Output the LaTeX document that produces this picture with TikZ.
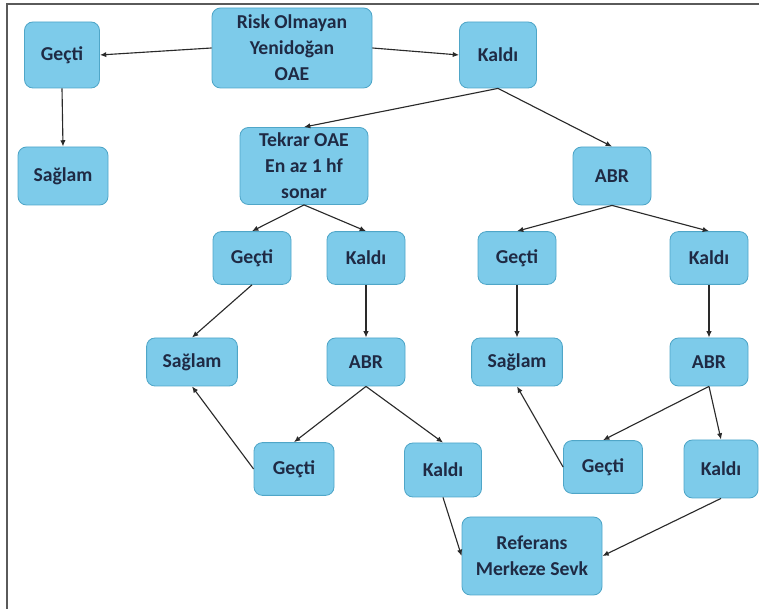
\documentclass[tikz,border=0pt]{standalone}
\usepackage{fontspec}
\setmainfont{Carlito}
\usepackage{xcolor}
\usepackage{tikz}
\usetikzlibrary{arrows.meta}
\definecolor{HSFill}{HTML}{7DCBEA}
\definecolor{HSEdge}{HTML}{4FA6C8}
\definecolor{HSText}{HTML}{1F2A44}
\definecolor{HSFrame}{HTML}{5A5A5A}
\definecolor{HSLine}{HTML}{2A2A2A}
\tikzset{
  box/.style={draw=HSEdge,line width=0.6pt,fill=HSFill,rounded corners=6pt,
    inner sep=0pt,align=center,text=HSText,
    font=\fontsize{14}{18.5}\selectfont\bfseries},
  small/.style={box,minimum width=1.95cm,minimum height=1.32cm},
  wide/.style={box,minimum width=2.27cm,minimum height=1.2cm},
  link/.style={HSLine,line width=0.8pt,-{Latex[length=4.5pt,width=3.8pt]}}
}

\begin{document}
\begin{tikzpicture}[x=1cm,y=1cm]
\path[use as bounding box] (0,0) rectangle (18.975,15.225);
\draw[HSFrame,line width=0.9pt] (0.175,0) -- (0.175,15.125) -- (18.975,15.125);
% top row
\node[box,minimum width=4.00cm,minimum height=2.00cm] (root) at (7.30,14.025) {Risk Olmayan\\Yenidoğan\\OAE};
\node[box,minimum width=1.875cm,minimum height=1.65cm] (g1) at (1.55,13.85) {Geçti};
\node[box,minimum width=1.925cm,minimum height=1.65cm] (k1) at (12.45,13.85) {Kaldı};
\node[box,minimum width=2.25cm,minimum height=1.45cm] (s1) at (1.575,10.825) {Sağlam};
\node[box,minimum width=3.20cm,minimum height=1.925cm] (tekrar) at (7.60,11.075) {Tekrar OAE\\En az 1 hf\\sonar};
\node[box,minimum width=1.95cm,minimum height=1.45cm] (abr1) at (15.30,10.825) {ABR};
% left branch
\node[small] (g2) at (6.30,8.775) {Geçti};
\node[small] (k2) at (9.15,8.775) {Kaldı};
\node[wide] (s2) at (4.80,6.175) {Sağlam};
\node[small,minimum height=1.2cm] (abr2) at (9.15,6.175) {ABR};
\node[small,minimum width=2.0cm] (g3) at (7.35,3.50) {Geçti};
\node[small,minimum width=1.925cm,minimum height=1.35cm] (k3) at (11.075,3.475) {Kaldı};
% right branch
\node[small] (g4) at (12.925,8.775) {Geçti};
\node[small] (k4) at (17.725,8.775) {Kaldı};
\node[wide] (s3) at (12.925,6.175) {Sağlam};
\node[small,minimum height=1.2cm] (abr3) at (17.725,6.175) {ABR};
\node[small,minimum width=1.975cm] (g5) at (15.075,3.55) {Geçti};
\node[small,minimum width=1.85cm,minimum height=1.45cm] (k5) at (18.025,3.50) {Kaldı};
\node[box,minimum width=3.50cm,minimum height=1.95cm] (ref) at (13.30,1.325) {Referans\\Merkeze Sevk};
% connectors
\draw[link] (root.west) -- (g1.east);
\draw[link] (root.east) -- (k1.west);
\draw[link] (g1.south) -- (s1.north);
\draw[link] (k1.south) -- (tekrar.north);
\draw[link] (k1.south) -- (abr1.north);
\draw[link] (tekrar.south) -- (g2.north);
\draw[link] (tekrar.south) -- (k2.north);
\draw[link] (g2.south) -- (s2.north);
\draw[link] (k2.south) -- (abr2.north);
\draw[link] (abr2.south) -- (g3.north);
\draw[link] (abr2.south) -- (k3.north);
\draw[link] (g3.west) -- (s2.south);
\draw[link] (k3.south) -- (ref.west);
\draw[link] (abr1.south) -- (g4.north);
\draw[link] (abr1.south) -- (k4.north);
\draw[link] (g4.south) -- (s3.north);
\draw[link] (k4.south) -- (abr3.north);
\draw[link] (abr3.south) -- (g5.north);
\draw[link] (abr3.south) -- (k5.north);
\draw[link] (g5.west) -- (s3.south);
\draw[link] (k5.south) -- (ref.east);
\end{tikzpicture}
\end{document}
